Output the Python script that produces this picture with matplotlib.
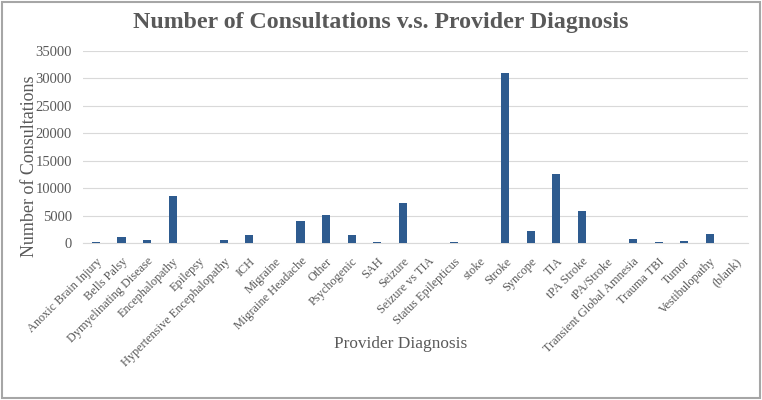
import matplotlib
matplotlib.use("Agg")
import matplotlib.pyplot as plt
from matplotlib.patches import Rectangle

# Provider diagnosis categories and consultation counts
diagnoses = [
    "Anoxic Brain Injury", "Bells Palsy", "Dymyelinating Disease", "Encephalopathy",
    "Epilepsy", "Hypertensive Encephalopathy", "ICH", "Migraine", "Migraine Headache",
    "Other", "Psychogenic", "SAH", "Seizure", "Seizure vs TIA", "Status Epilepticus",
    "stoke", "Stroke", "Syncope", "TIA", "tPA Stroke", "tPA/Stroke",
    "Transient Global Amnesia", "Trauma TBI", "Tumor", "Vestibulopathy", "(blank)",
]
consultations = [
    100, 1050, 500, 8500,
    10, 500, 1400, 10, 4100,
    5100, 1450, 100, 7300, 10, 120,
    5, 30900, 2200, 12550, 5750, 10,
    680, 150, 420, 1650, 0,
]
y_ticks = [0, 5000, 10000, 15000, 20000, 25000, 30000, 35000]

text_color = "#595959"
bar_color = "#2E5B8F"
plt.rcParams["font.family"] = ["Liberation Serif", "DejaVu Serif"]

fig = plt.figure(figsize=(7.62, 4.0), dpi=100)
ax = fig.add_axes([0.109, 0.3925, 0.873, 0.48])

x = list(range(len(diagnoses)))
ax.bar(x, consultations, width=0.32, color=bar_color, zorder=3)

ax.set_xlim(-0.5, len(diagnoses) - 0.5)
ax.set_ylim(0, 35000)
ax.set_yticks(y_ticks)
ax.set_yticklabels([str(v) for v in y_ticks], fontsize=10.5, color=text_color)
ax.set_xticks(x)
ax.set_xticklabels(diagnoses, rotation=45, ha="right", rotation_mode="anchor",
                   fontsize=8.8, color=text_color)
ax.tick_params(axis="y", length=0, pad=8)
ax.tick_params(axis="x", length=0, pad=9)

ax.grid(axis="y", color="#D9D9D9", linewidth=0.8, zorder=0)
for side in ["top", "right", "left"]:
    ax.spines[side].set_visible(False)
ax.spines["bottom"].set_color("#D9D9D9")

fig.text(0.039, 0.585, "Number of Consultations", fontsize=13, color=text_color,
         rotation=90, ha="center", va="center")
fig.text(0.526, 0.14, "Provider Diagnosis", fontsize=12.4, color=text_color,
         ha="center", va="center")
fig.text(0.5, 0.943, "Number of Consultations v.s. Provider Diagnosis",
         fontsize=17.2, fontweight="bold", color=text_color, ha="center", va="center")

# chart border
fig.patches.append(Rectangle((0.002, 0.004), 0.995, 0.992, transform=fig.transFigure,
                             fill=False, edgecolor="#A6A6A6", linewidth=1.5))

fig.savefig("out.png", dpi=100)
